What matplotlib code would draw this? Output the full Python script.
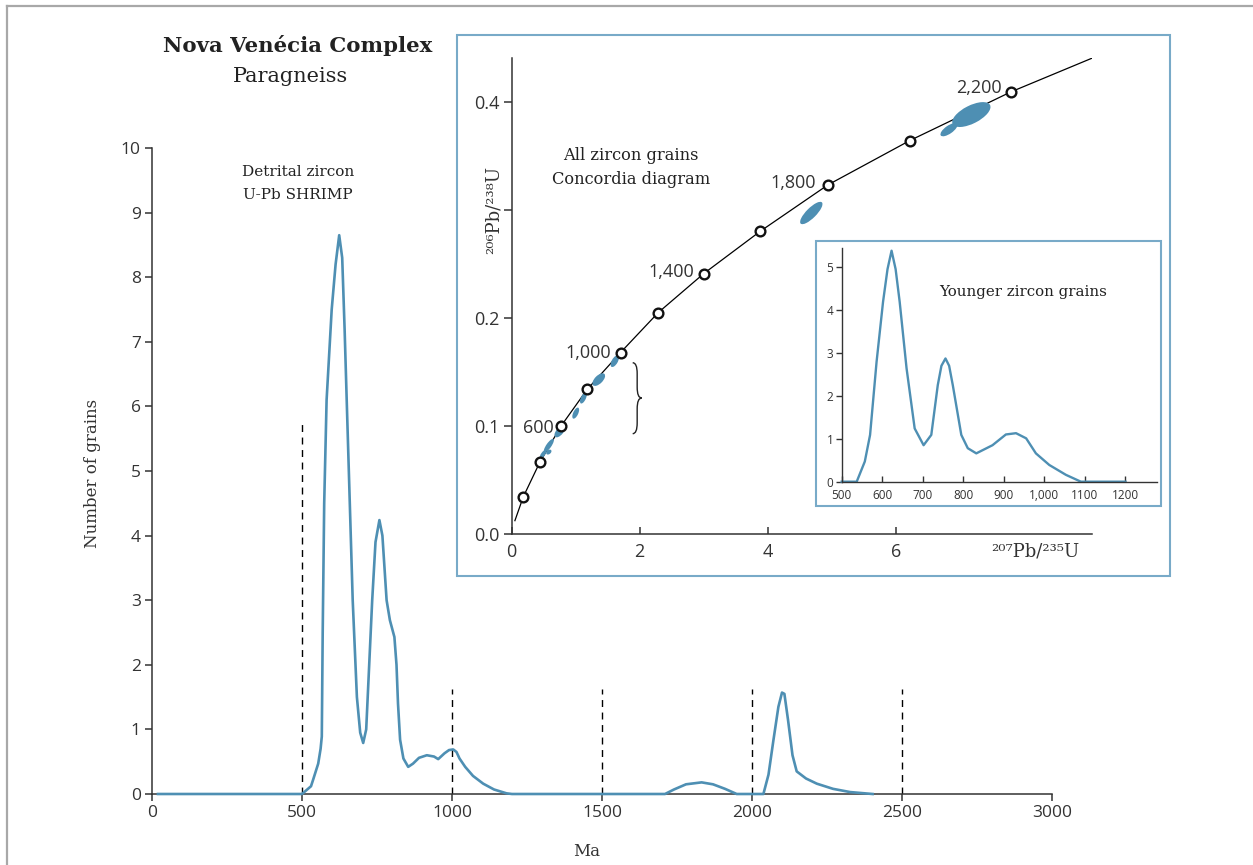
import matplotlib
matplotlib.use("Agg")
import matplotlib.pyplot as plt
from matplotlib.patches import Rectangle, PathPatch
from matplotlib.path import Path
from matplotlib.collections import EllipseCollection
from matplotlib.lines import Line2D

# ==============================
# Data
# ==============================
# Detrital zircon probability curve (all grains)
age_all = [20, 500, 530, 537, 554, 562, 566, 569, 574, 582, 599, 612, 624, 634, 642,
           649, 669, 683, 694, 704, 714, 722, 734, 745, 758, 768, 775, 782, 793, 808,
           815, 820, 827, 838, 854, 870, 890, 916, 940, 954, 975, 990, 1004, 1015,
           1025, 1044, 1070, 1104, 1140, 1182, 1200, 1710, 1740, 1780, 1832, 1870,
           1910, 1949, 2038, 2055, 2071, 2088, 2100, 2108, 2120, 2135, 2149, 2180,
           2216, 2270, 2327, 2402]
n_all = [0, 0, 0.12, 0.22, 0.47, 0.70, 0.89, 2.5, 4.5, 6.1, 7.5, 8.2, 8.65, 8.3, 7.2,
         6.1, 3.0, 1.5, 0.95, 0.79, 1.0, 1.8, 3.0, 3.9, 4.24, 4.0, 3.5, 3.0, 2.69, 2.43,
         2.0, 1.4, 0.84, 0.55, 0.42, 0.47, 0.56, 0.60, 0.58, 0.54, 0.63, 0.68, 0.69, 0.65,
         0.55, 0.42, 0.28, 0.16, 0.07, 0.01, 0, 0, 0.07, 0.15, 0.18, 0.15,
         0.08, 0, 0, 0.3, 0.82, 1.35, 1.57, 1.55, 1.15, 0.6, 0.35, 0.24,
         0.16, 0.08, 0.03, 0]

# dashed reference lines (age, height)
ref_age = [500, 1000, 1500, 2000, 2500]
ref_top = [5.76, 1.63, 1.63, 1.63, 1.63]

# Younger grains curve
age_young = [500, 537, 557, 570, 586, 602, 613, 623, 633, 643, 660, 680, 702, 721, 737,
             746, 756, 765, 774, 795, 811, 832, 872, 905, 930, 955, 979, 1012, 1053,
             1090, 1200]
n_young = [0, 0, 0.47, 1.09, 2.79, 4.19, 4.95, 5.38, 4.95, 4.19, 2.64, 1.24, 0.85, 1.09,
           2.25, 2.7, 2.87, 2.7, 2.25, 1.09, 0.78, 0.66, 0.85, 1.10, 1.13, 1.01, 0.66,
           0.39, 0.16, 0, 0]

# Concordia points (207Pb/235U, 206Pb/238U) every 200 Ma
conc_x = [0.18, 0.44, 0.77, 1.18, 1.70, 2.29, 3.00, 3.88, 4.94, 6.22, 7.80]
conc_y = [0.0345, 0.0667, 0.100, 0.134, 0.168, 0.205, 0.241, 0.280, 0.323, 0.364, 0.409]
conc_age = [200, 400, 600, 800, 1000, 1200, 1400, 1600, 1800, 2000, 2200]
labelled_ages = {600: (-7, -2), 1000: (-9, 0), 1400: (-10, 2), 1800: (-12, 2), 2200: (-9, 4)}
curve_start = (0.05, 0.0126)
curve_end = (9.06, 0.44)

# zircon error ellipses: centre x, centre y, length (px), width (px), angle (deg)
ell_x = [7.18, 6.83, 4.68, 1.61, 1.36, 1.12, 1.00, 0.75, 0.58, 0.49, 0.58]
ell_y = [0.388, 0.374, 0.297, 0.160, 0.143, 0.126, 0.112, 0.095, 0.082, 0.074, 0.076]
ell_len = [42, 20, 30, 13, 16, 12, 12, 14, 16, 10, 6]
ell_wid = [18, 8, 10, 6, 8, 5, 5, 7, 5, 4, 4]
ell_ang = [27, 35, 45, 60, 45, 65, 65, 50, 55, 55, 40]

BLUE = "#4e8fb3"
BOX = "#78aac8"
DARK = "#333333"
SERIF = "DejaVu Serif"
SANS = "Open Sans"

W, H = 1253, 865
plt.rcParams["font.family"] = SANS


def fx(px):
    return px / W


def fy(py):
    return 1 - py / H


fig = plt.figure(figsize=(W / 100, H / 100), dpi=100)

# ==============================
# Main probability plot
# ==============================
ax = fig.add_axes([fx(152), fy(794), 900 / W, 646 / H], zorder=0)
ax.plot(age_all, n_all, color=BLUE, lw=1.9, clip_on=False, zorder=3)
ax.vlines(ref_age, 0, ref_top, colors="k", lw=1.0, linestyles=(0, (5, 4)), zorder=2)
ax.set_xlim(0, 3000)
ax.set_ylim(0, 10)
ax.set_xticks(range(0, 3001, 500))
ax.set_yticks(range(0, 11))
for s in ["top", "right"]:
    ax.spines[s].set_visible(False)
for s in ["left", "bottom"]:
    ax.spines[s].set_color(DARK)
    ax.spines[s].set_linewidth(1.1)
ax.tick_params(direction="out", length=5, width=1.1, colors=DARK, labelsize=12.5, pad=3)
ax.set_xlabel("Ma", family=SERIF, fontsize=12, color=DARK)
ax.xaxis.set_label_coords((587 - 152) / 900, (794 - 843) / 646)
ax.set_ylabel("Number of grains", family=SERIF, fontsize=12, color=DARK)
ax.yaxis.set_label_coords((101 - 152) / 900, (794 - 473) / 646)
ax.patch.set_alpha(0)

fig.text(fx(298), fy(46), "Nova Venécia Complex", family=SERIF, fontweight="bold",
         fontsize=15.3, color="#222222", ha="center", va="center")
fig.text(fx(290), fy(76), "Paragneiss", family=SERIF, fontsize=15,
         color="#222222", ha="center", va="center")
fig.text(fx(298), fy(172), "Detrital zircon", family=SERIF, fontsize=11,
         color="#222222", ha="center", va="center")
fig.text(fx(298), fy(195), "U-Pb SHRIMP", family=SERIF, fontsize=11,
         color="#222222", ha="center", va="center")

# ==============================
# Concordia inset
# ==============================
fig.patches.append(Rectangle((fx(457), fy(576)), 713 / W, 541 / H, transform=fig.transFigure,
                             facecolor="white", edgecolor=BOX, lw=1.5, zorder=0.5))
axc = fig.add_axes([fx(511.7), fy(534.3), 580 / W, 476 / H], zorder=1)
axc.patch.set_alpha(0)
cx = [curve_start[0]] + conc_x + [curve_end[0]]
cy = [curve_start[1]] + conc_y + [curve_end[1]]
axc.plot(cx, cy, color="k", lw=0.9, zorder=2)
ec = EllipseCollection(ell_len, ell_wid, ell_ang, units="dots",
                       offsets=list(zip(ell_x, ell_y)), offset_transform=axc.transData,
                       facecolor=BLUE, edgecolor="none", zorder=3)
axc.add_collection(ec)
axc.plot(conc_x, conc_y, "o", ms=7, mfc="white", mec="#111111", mew=1.7, zorder=4)
for a, x, y in zip(conc_age, conc_x, conc_y):
    if a in labelled_ages:
        axc.annotate(f"{a:,}", (x, y), xytext=labelled_ages[a], textcoords="offset pixels",
                     ha="right", va="center", fontsize=13, color=DARK)

# bracket next to the young grains
bx_l, bx_m, bx_r = 1.89, 1.96, 2.03
by_t, by_m, by_b = 0.1586, 0.126, 0.093
d = 0.01
verts = [(bx_l, by_t), (bx_m, by_t), (bx_m, by_t - d), (bx_m, by_m + d),
         (bx_m, by_m), (bx_r, by_m), (bx_m, by_m), (bx_m, by_m - d),
         (bx_m, by_b + d), (bx_m, by_b), (bx_l, by_b)]
codes = [Path.MOVETO, Path.CURVE3, Path.CURVE3, Path.LINETO, Path.CURVE3, Path.CURVE3,
         Path.CURVE3, Path.CURVE3, Path.LINETO, Path.CURVE3, Path.CURVE3]
axc.add_patch(PathPatch(Path(verts, codes), fill=False, edgecolor="#222222", lw=1.0))

axc.set_xlim(0, 9.06)
axc.set_ylim(0, 0.44)
axc.set_xticks([0, 2, 4, 6])
axc.set_yticks([0.0, 0.1, 0.2, 0.3, 0.4])
axc.set_yticklabels(["0.0", "0.1", "0.2", "", "0.4"])
for s in ["top", "right"]:
    axc.spines[s].set_visible(False)
for s in ["left", "bottom"]:
    axc.spines[s].set_color(DARK)
    axc.spines[s].set_linewidth(1.1)
axc.tick_params(axis="x", direction="in", length=5, width=1.1, colors=DARK, labelsize=13, pad=6)
axc.tick_params(axis="y", direction="out", length=6, width=1.1, colors=DARK, labelsize=13, pad=3)
axc.set_ylabel("²⁰⁶Pb/²³⁸U", family=SERIF, fontsize=13, color=DARK)
axc.yaxis.set_label_coords((503 - 511.7) / 580, (534.3 - 210) / 476)
axc.set_xlabel("²⁰⁷Pb/²³⁵U", family=SERIF, fontsize=13, color=DARK)
axc.xaxis.set_label_coords((1035 - 511.7) / 580, (534.3 - 543) / 476)
fig.text(fx(631), fy(155), "All zircon grains", family=SERIF, fontsize=11.7,
         color="#222222", ha="center", va="center")
fig.text(fx(631), fy(180), "Concordia diagram", family=SERIF, fontsize=11.7,
         color="#222222", ha="center", va="center")

# ==============================
# Younger grains inset
# ==============================
fig.patches.append(Rectangle((fx(816), fy(506)), 345 / W, 265 / H, transform=fig.transFigure,
                             facecolor="white", edgecolor=BOX, lw=1.5, zorder=1.5))
axy = fig.add_axes([fx(841.7), fy(481.7), 315 / W, 234 / H], zorder=2)
axy.patch.set_alpha(0)
axy.plot(age_young, n_young, color=BLUE, lw=1.7, clip_on=False)
axy.set_xlim(500, 1277)
axy.set_ylim(0, 5.45)
axy.set_xticks(range(500, 1201, 100))
axy.set_xticklabels(["500", "600", "700", "800", "900", "1,000", "1100", "1200"])
axy.set_yticks(range(0, 6))
for s in ["top", "right"]:
    axy.spines[s].set_visible(False)
for s in ["left", "bottom"]:
    axy.spines[s].set_color(DARK)
    axy.spines[s].set_linewidth(1.0)
axy.tick_params(axis="x", direction="in", length=4, width=1.0, colors=DARK, labelsize=8.5, pad=5)
axy.tick_params(axis="y", direction="out", length=4, width=1.0, colors=DARK, labelsize=8.5, pad=2)
fig.text(fx(1023), fy(292), "Younger zircon grains", family=SERIF, fontsize=10.8,
         color="#222222", ha="center", va="center")

# page border
fig.add_artist(Line2D([fx(7), 1], [fy(6), fy(6)], color="#a8a8a8", lw=1.6))
fig.add_artist(Line2D([fx(7), fx(7)], [0, fy(6)], color="#a8a8a8", lw=1.6))

fig.savefig("out.png", dpi=100)
